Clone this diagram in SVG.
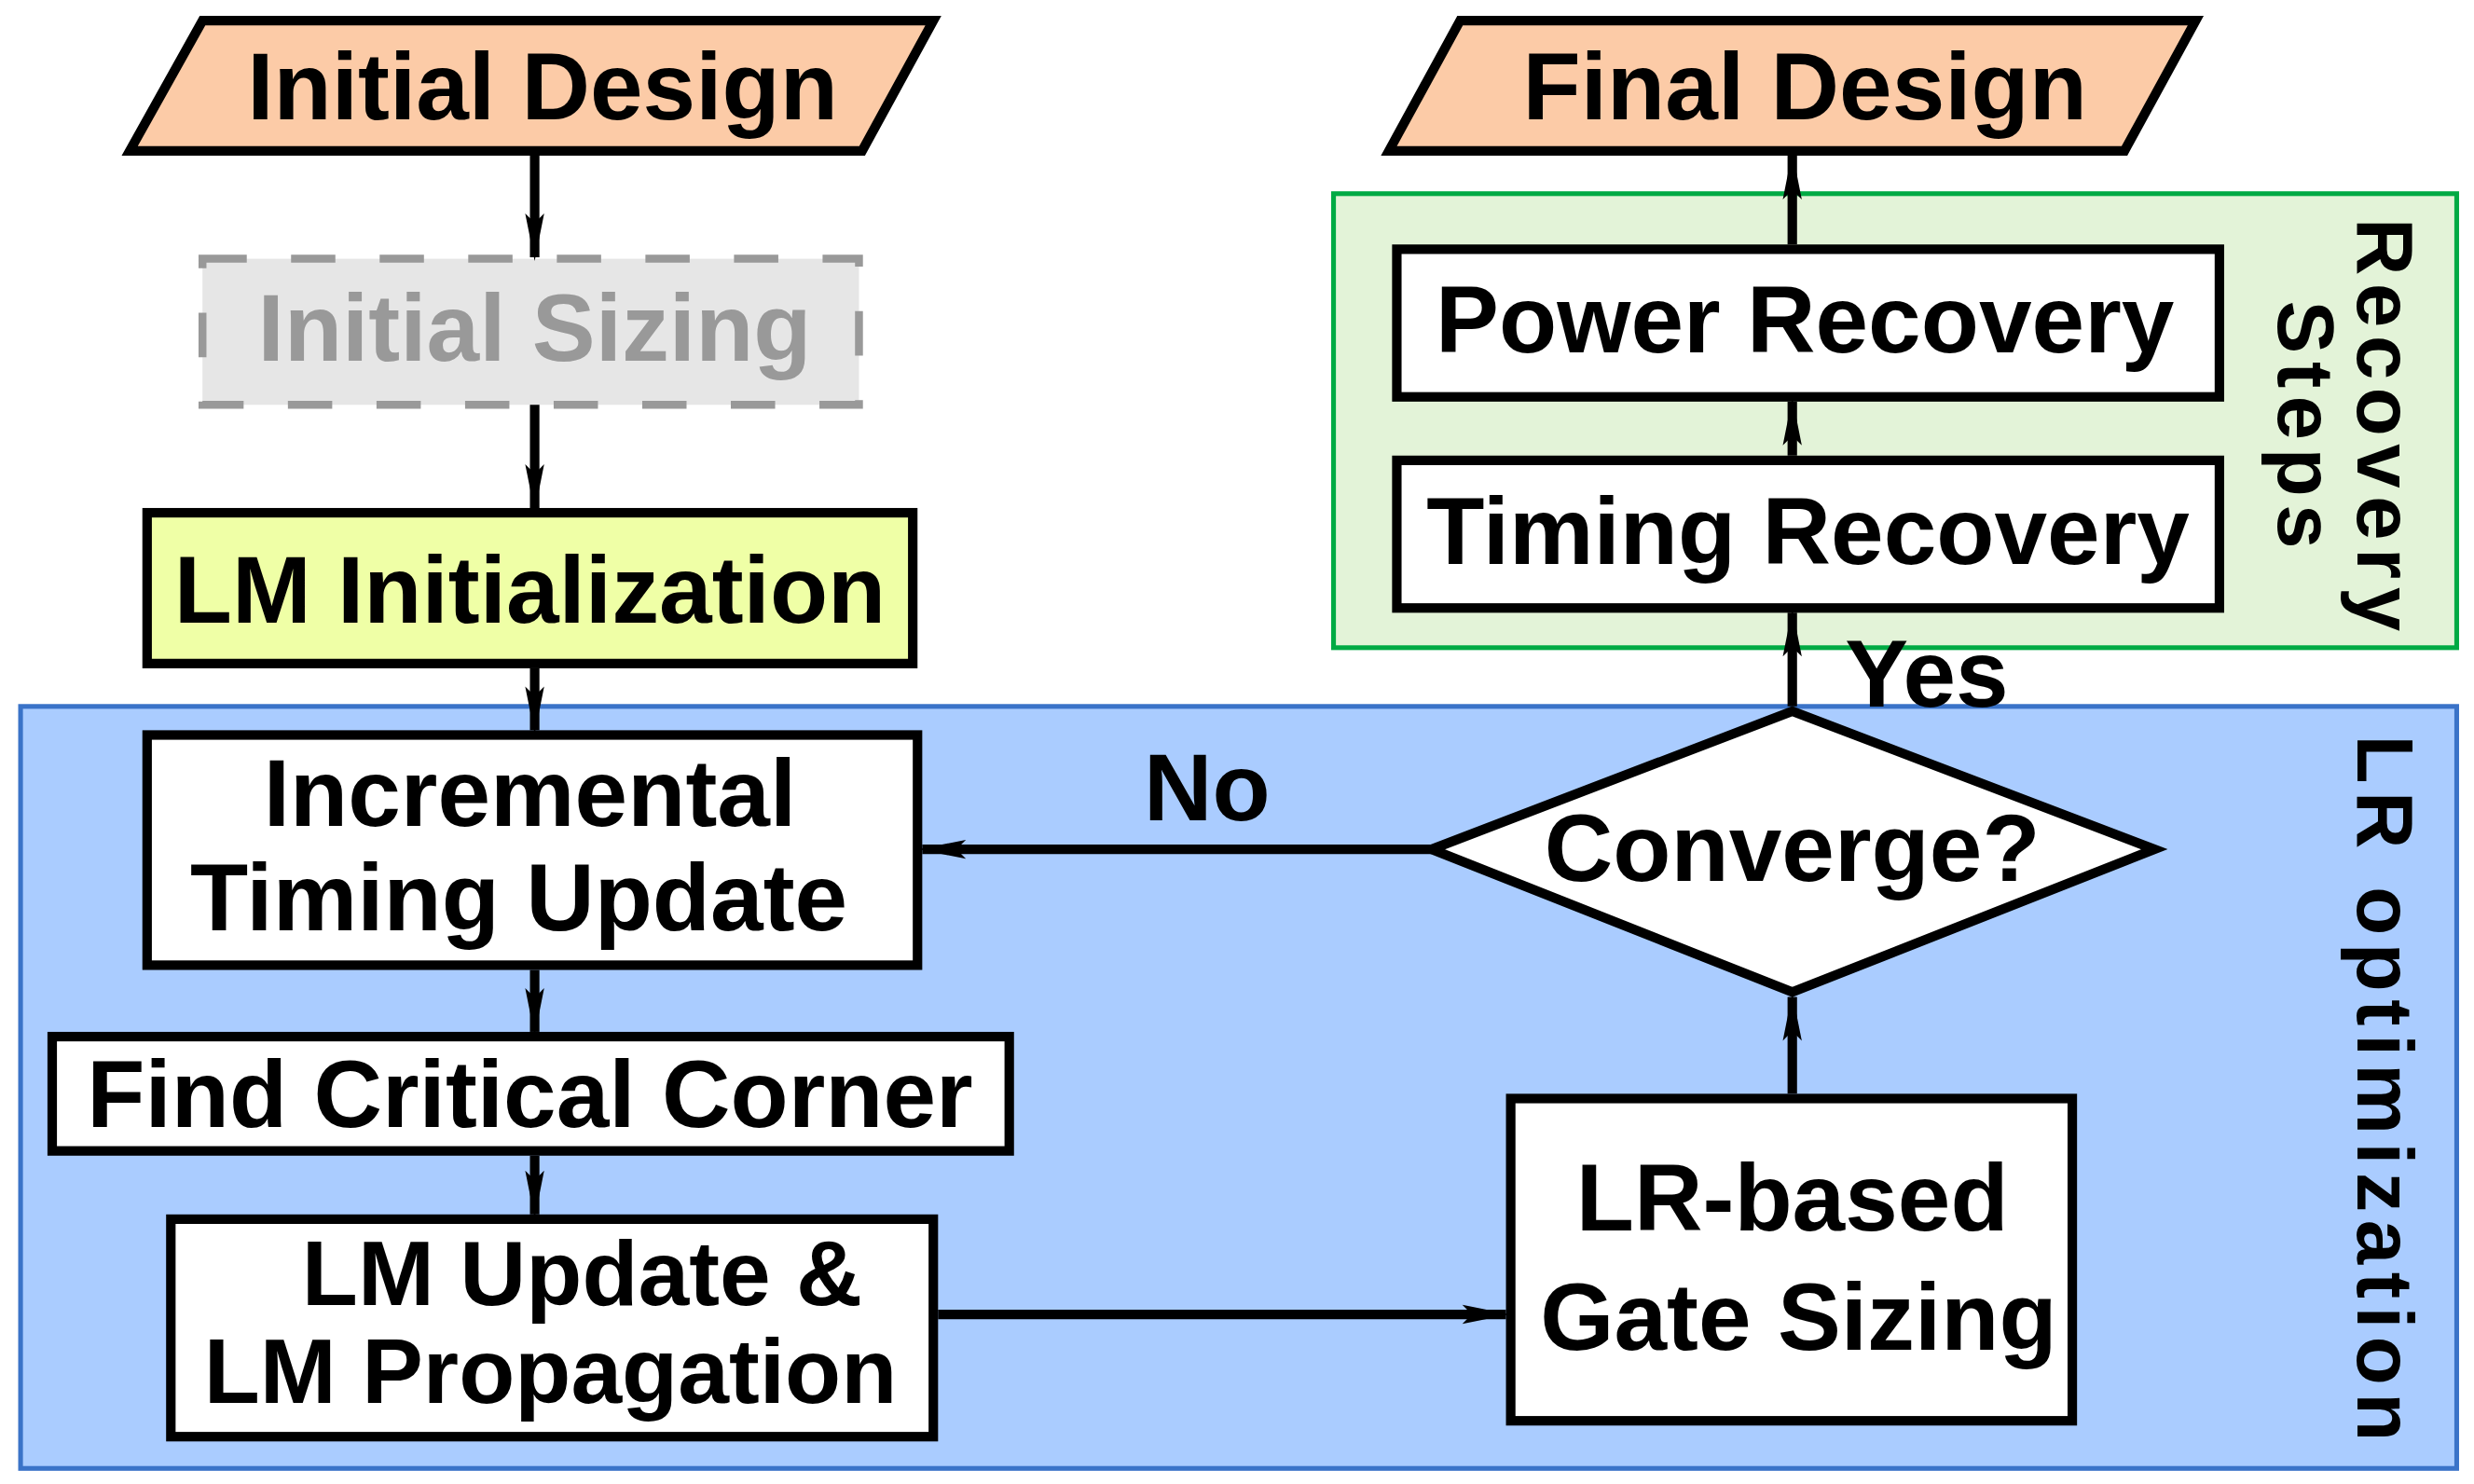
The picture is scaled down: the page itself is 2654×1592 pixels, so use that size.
<svg xmlns="http://www.w3.org/2000/svg" width="2654" height="1592" viewBox="0 0 2654 1592">
<style>
text{font-family:"Liberation Sans",Arial,sans-serif;font-weight:bold;font-size:60px;fill:#000;text-anchor:middle}
.box{fill:#fff;stroke:#000;stroke-width:6}
.con{stroke:#000;stroke-width:6;fill:none;marker-end:url(#ah)}
.side{font-size:50px;letter-spacing:5px}
</style>
<defs>
<marker id="ah" viewBox="0 0 5 2" markerWidth="5" markerHeight="2" refX="4.6" refY="1" orient="auto" overflow="visible"><path d="M0,0 L5,1 L0,2 L1,1 z" fill="#000"/></marker>
</defs>
<rect width="2654" height="1592" fill="#fff"/>
<g transform="scale(1.697,1.703)">
<g id="lr-group"><rect x="13" y="445" width="1540" height="480" fill="#aaccff" stroke="#3a73c8" stroke-width="3"/>
<text class="side" transform="translate(1490,688) rotate(90)">LR optimization</text></g>
<g id="recovery-group"><rect x="843" y="122" width="710" height="286" fill="#e3f3d8" stroke="#00aa44" stroke-width="3"/>
<text class="side" transform="translate(1490,270) rotate(90)">Recovery</text>
<text class="side" transform="translate(1440,270) rotate(90)">Steps</text></g>
<g id="initial-design"><polygon points="128,13 590,13 545,95 82,95" fill="#fccba7" stroke="#000" stroke-width="6"/><text x="343" y="75">Initial Design</text></g>
<g id="initial-sizing"><rect x="128" y="163" width="415" height="92" fill="#e6e6e6" stroke="#999" stroke-width="5" stroke-dasharray="28,28"/><text x="338" y="227" style="fill:#999">Initial Sizing</text></g>
<g id="lm-init"><rect x="93" y="323" width="484" height="95" fill="#efffa6" stroke="#000" stroke-width="6"/><text x="335" y="392">LM Initialization</text></g>
<g id="incremental"><rect class="box" x="93" y="463" width="487" height="145"/><text x="335" y="520">Incremental</text><text x="328" y="586">Timing Update</text></g>
<g id="find-corner"><rect class="box" x="33" y="653" width="605" height="72"/><text x="335" y="710">Find Critical Corner</text></g>
<g id="lm-update"><rect class="box" x="108" y="768" width="482" height="137"/><text x="368" y="822" style="font-size:58px">LM Update &amp;</text><text x="348" y="884" style="font-size:58px">LM Propagation</text></g>
<g id="lr-sizing"><rect class="box" x="955" y="692" width="355" height="203"/><text x="1133" y="775">LR-based</text><text x="1137" y="850">Gate Sizing</text></g>
<g id="converge"><polygon points="905,535 1133,448 1362,535 1133,625" fill="#fff" stroke="#000" stroke-width="6"/><text x="1133" y="555">Converge?</text></g>
<g id="timing-recovery"><rect class="box" x="883" y="290" width="520" height="93"/><text x="1143" y="355">Timing Recovery</text></g>
<g id="power-recovery"><rect class="box" x="883" y="157" width="520" height="93"/><text x="1141" y="222">Power Recovery</text></g>
<g id="final-design"><polygon points="923,13 1388,13 1343,95 878,95" fill="#fccba7" stroke="#000" stroke-width="6"/><text x="1141" y="75">Final Design</text></g>
<g id="connectors">
<line class="con" x1="338" y1="98" x2="338" y2="162"/>
<line class="con" x1="338" y1="255" x2="338" y2="320"/>
<line class="con" x1="338" y1="421" x2="338" y2="460"/>
<line class="con" x1="338" y1="611" x2="338" y2="650"/>
<line class="con" x1="338" y1="728" x2="338" y2="765"/>
<line class="con" x1="593" y1="828" x2="952" y2="828"/>
<line class="con" x1="1133" y1="689" x2="1133" y2="628"/>
<line class="con" x1="1133" y1="445" x2="1133" y2="386"/>
<line class="con" x1="1133" y1="287" x2="1133" y2="253"/>
<line class="con" x1="1133" y1="154" x2="1133" y2="98"/>
<line class="con" x1="905" y1="535" x2="583" y2="535"/>
<text x="763" y="517">No</text>
<text x="1218" y="445">Yes</text>
</g>
</g>
</svg>
